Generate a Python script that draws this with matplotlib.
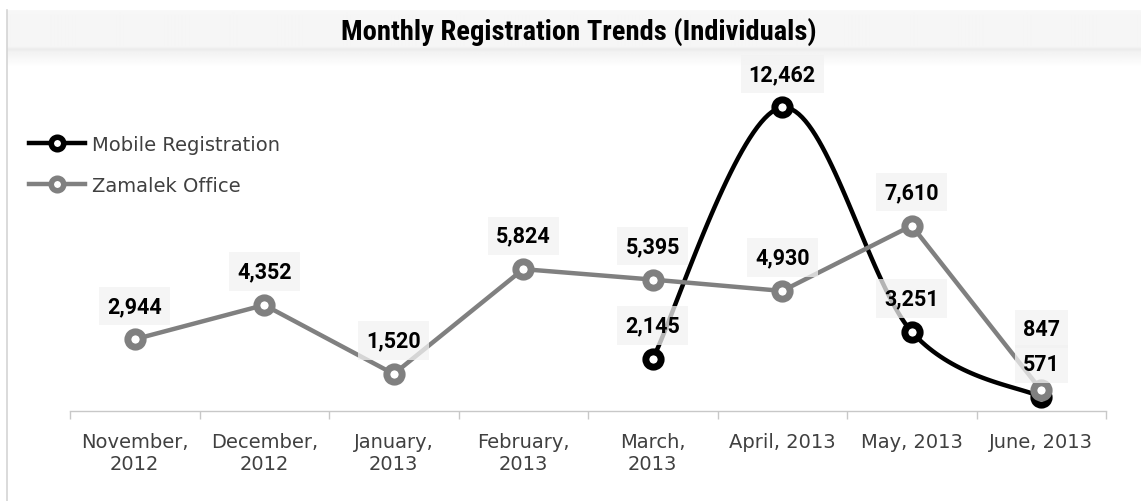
import numpy as np
import matplotlib
matplotlib.use("Agg")
import matplotlib.pyplot as plt
from matplotlib import font_manager
from matplotlib.lines import Line2D

# data
months = ["November,\n2012", "December,\n2012", "January,\n2013", "February,\n2013",
          "March,\n2013", "April, 2013", "May, 2013", "June, 2013"]
mobile = [np.nan, np.nan, np.nan, np.nan, 2145, 12462, 3251, 571]
zamalek = [2944, 4352, 1520, 5824, 5395, 4930, 7610, 847]

W, H = 1141, 502


def pick_font(cands):
    names = {f.name for f in font_manager.fontManager.ttflist}
    for c in cands:
        if c in names:
            return c
    return "DejaVu Sans"


narrow = pick_font(["Roboto Condensed", "Liberation Sans Narrow", "DejaVu Sans"])
labfont = pick_font(["Roboto", "DejaVu Sans"])


def smooth(xs, ys, n=40):
    # excel-like bezier smoothing through the points
    pts = np.column_stack([xs, ys])
    out = []
    for i in range(len(pts) - 1):
        p0 = pts[max(i - 1, 0)]
        p1 = pts[i]
        p2 = pts[i + 1]
        p3 = pts[min(i + 2, len(pts) - 1)]
        c1 = p1 + (p2 - p0) / 6
        c2 = p2 - (p3 - p1) / 6
        t = np.linspace(0, 1, n)[:, None]
        seg = ((1 - t) ** 3) * p1 + 3 * ((1 - t) ** 2) * t * c1 + 3 * (1 - t) * t ** 2 * c2 + t ** 3 * p2
        out.append(seg)
    out = np.vstack(out)
    return out[:, 0], out[:, 1]


fig = plt.figure(figsize=(W / 100, H / 100), dpi=100)

# title band
band = fig.add_axes([7 / W, 1 - 68 / H, 1 - 7 / W, 57 / H])
yy = np.arange(57)
shade = np.interp(yy, [0, 3, 36, 39, 42, 57], [0.975, 0.965, 0.962, 0.925, 0.95, 1.0])
band.imshow(np.tile(shade[:, None], (1, 10)), cmap="gray", vmin=0, vmax=1,
            aspect="auto", extent=[0, 1, 1, 0], interpolation="bilinear")
band.axis("off")
fig.add_artist(Line2D([7 / W, 7 / W], [0, 1 - 11 / H], color="#d4d4d4", lw=1.2))
fig.text(579 / W, 1 - 32 / H, "Monthly Registration Trends (Individuals)",
         ha="center", va="center", fontsize=20.5, fontweight="bold", family=narrow)

ax = fig.add_axes([70 / W, 90 / H, 1036 / W, (412 - 71) / H])
x = np.arange(len(months))

xm = x[~np.isnan(mobile)]
ym = np.array(mobile)[~np.isnan(mobile)]
sx, sy = smooth(xm, ym)
ax.plot(sx, sy, color="black", lw=3.2, zorder=3, solid_capstyle="round")
ax.plot(xm, ym, ls="none", marker="o", ms=11, mew=5, mfc="white", mec="black", zorder=4)

ax.plot(x, zamalek, color="#808080", lw=3.2, marker="o", ms=11, mew=5,
        mfc="white", mec="#808080", zorder=5)

box = dict(boxstyle="square,pad=0.38", fc="#f2f2f2", ec="none", alpha=0.75)
for xi, v in zip(x, zamalek):
    off = 44 if xi == 7 else 24
    ax.annotate(f"{v:,}", (xi, v), xytext=(0, off), textcoords="offset points",
                ha="center", va="center", fontsize=15.5, fontweight="bold",
                family=labfont, bbox=box, zorder=6)
for xi, v in zip(xm, ym):
    ax.annotate(f"{int(v):,}", (xi, v), xytext=(0, 24), textcoords="offset points",
                ha="center", va="center", fontsize=15.5, fontweight="bold",
                family=labfont, bbox=box, zorder=6)

ax.set_xlim(-0.5, len(months) - 0.5)
ax.set_ylim(0, 14000)
ax.set_yticks([])
for s in ["left", "right", "top"]:
    ax.spines[s].set_visible(False)
ax.spines["bottom"].set_color("#c8c8c8")
ax.spines["bottom"].set_linewidth(1)
ax.set_xticks(x)
ax.set_xticklabels(months, fontsize=14, color="#404040", linespacing=1.2)
ax.set_xticks(np.arange(len(months) + 1) - 0.5, minor=True)
ax.tick_params(axis="x", which="major", length=0, pad=15)
ax.tick_params(axis="x", which="minor", length=6, color="#c8c8c8", width=1)

handles = [
    Line2D([], [], color="black", lw=3.2, marker="o", ms=9, mew=4, mfc="white", mec="black"),
    Line2D([], [], color="#808080", lw=3.2, marker="o", ms=9, mew=4, mfc="white", mec="#808080"),
]
fig.legend(handles, ["Mobile Registration", "Zamalek Office"], loc="upper left",
           bbox_to_anchor=(29 / W, 1 - 136 / H), frameon=False, fontsize=14,
           handlelength=2.9, handletextpad=0.35, labelspacing=1.12,
           borderpad=0, borderaxespad=0, labelcolor="#404040")

fig.savefig("out.png", dpi=100)
